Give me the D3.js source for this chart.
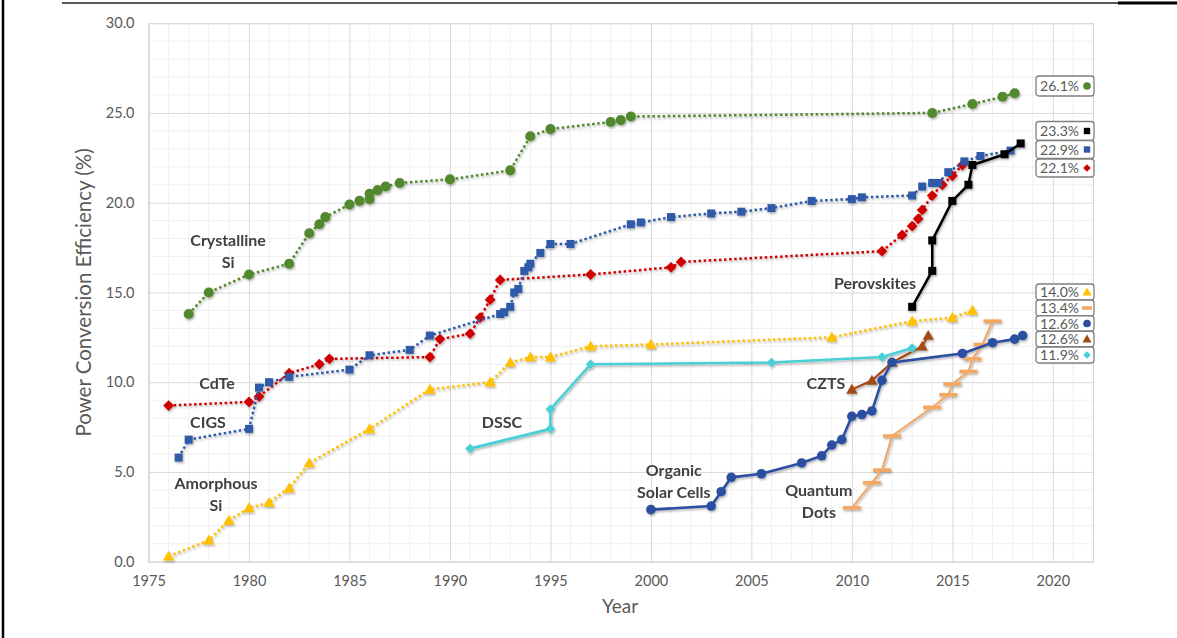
<!DOCTYPE html>
<html>
<head>
<meta charset="utf-8">
<script src="https://cdn.jsdelivr.net/npm/d3@7"></script>
<style>
  html, body { margin: 0; padding: 0; background: #fff; }
  svg { display: block; }
</style>
</head>
<body>
<svg id="chart" width="1177" height="638"></svg>
<script>
// Record cell efficiencies by technology: [year, efficiency %]
const crystallineSi = [[1977,13.8],[1978,15.0],[1980,16.0],[1982,16.6],[1983,18.3],[1983.5,18.8],[1983.8,19.2],[1985,19.9],[1985.5,20.1],[1986,20.2],[1986,20.5],[1986.4,20.7],[1986.8,20.9],[1987.5,21.1],[1990,21.3],[1993,21.8],[1994,23.7],[1995,24.1],[1998,24.5],[1998.5,24.6],[1999,24.8],[2014,25.0],[2016,25.5],[2017.5,25.9],[2018.1,26.1]];
const cigs = [[1976.5,5.8],[1977,6.8],[1980,7.4],[1980.5,9.7],[1981,10.0],[1982,10.3],[1985,10.7],[1986,11.5],[1988,11.8],[1989,12.6],[1992.5,13.8],[1992.7,13.9],[1993,14.2],[1993.2,15.0],[1993.4,15.2],[1993.7,16.2],[1993.9,16.4],[1994,16.6],[1994.5,17.2],[1995,17.7],[1996,17.7],[1999,18.8],[1999.5,18.9],[2001,19.2],[2003,19.4],[2004.5,19.5],[2006,19.7],[2008,20.1],[2010,20.2],[2010.5,20.3],[2013,20.4],[2013.5,20.9],[2014,21.1],[2014.3,21.1],[2014.8,21.7],[2015.6,22.3],[2016.4,22.6],[2017.9,22.9]];
const cdte = [[1976,8.7],[1980,8.9],[1980.5,9.2],[1982,10.5],[1983.5,11.0],[1984,11.3],[1989,11.4],[1989.5,12.4],[1991,12.7],[1991.5,13.6],[1992,14.6],[1992.5,15.7],[1997,16.0],[2001,16.4],[2001.5,16.7],[2011.5,17.3],[2012.5,18.2],[2013,18.7],[2013.3,19.1],[2013.5,19.6],[2014,20.4],[2014.5,21.0],[2015,21.5],[2015.5,22.1]];
const amorphousSi = [[1976,0.3],[1978,1.2],[1979,2.3],[1980,3.0],[1981,3.3],[1982,4.1],[1983,5.5],[1986,7.4],[1989,9.6],[1992,10.0],[1993,11.1],[1994,11.4],[1995,11.4],[1997,12.0],[2000,12.1],[2009,12.5],[2013,13.4],[2015,13.6],[2016,14.0]];
const dssc = [[1991,6.3],[1995,7.4],[1995,8.5],[1997,11.0],[2006,11.1],[2011.5,11.4],[2013,11.9]];
const organic = [[2000,2.9],[2003,3.1],[2003.5,3.9],[2004,4.7],[2005.5,4.9],[2007.5,5.5],[2008.5,5.9],[2009,6.5],[2009.5,6.8],[2010,8.1],[2010.5,8.2],[2011,8.4],[2011.5,10.1],[2012,11.1],[2015.5,11.6],[2017,12.2],[2018.1,12.4],[2018.5,12.6]];
const perovskites = [[2013,14.2],[2014,16.2],[2014,17.9],[2015,20.1],[2015.8,21.0],[2016,22.1],[2017.6,22.7],[2018.4,23.3]];
const czts = [[2010,9.6],[2011,10.1],[2012,11.1],[2013.5,12.0],[2013.8,12.6]];
const quantumDots = [[2010,3.0],[2011,4.4],[2011.5,5.1],[2012,7.0],[2014,8.6],[2014.8,9.3],[2015,9.9],[2015.8,10.6],[2016,11.3],[2016.5,12.1],[2017,13.4]];

const xTicks = [1975,1980,1985,1990,1995,2000,2005,2010,2015,2020];
const yTicks = [0,5,10,15,20,25,30];

// Series styling (drawing order: back to front)
const series = [
  {name:"Quantum Dots", data:quantumDots, color:"#F2A864", dotted:false, width:2, marker:"dash"},
  {name:"CZTS", data:czts, color:"#A24B14", dotted:false, width:2.2, marker:"triangle"},
  {name:"DSSC", data:dssc, color:"#48D0D6", dotted:false, width:2.6, marker:"diamondSmall"},
  {name:"Organic Solar Cells", data:organic, color:"#2C4FA0", dotted:false, width:2.6, marker:"circleSmall"},
  {name:"Amorphous Si", data:amorphousSi, color:"#FFC000", dotted:true, width:2.5, marker:"triangle"},
  {name:"CdTe", data:cdte, color:"#D00000", dotted:true, width:2.5, marker:"diamond"},
  {name:"CIGS", data:cigs, color:"#2E5AA8", dotted:true, width:2.5, marker:"square"},
  {name:"Perovskites", data:perovskites, color:"#000000", dotted:false, width:2.5, marker:"square"},
  {name:"Crystalline Si", data:crystallineSi, color:"#52892F", dotted:true, width:2.5, marker:"circle"}
];

// Record-value boxes at the right, in stacking order: [centre y, box height]
const recordOrder = ["Crystalline Si","Perovskites","CIGS","CdTe","Amorphous Si","Quantum Dots","Organic Solar Cells","CZTS","DSSC"];
const recordSlots = [[86,20], [131,19], [149.5,18], [168,18], [292,16], [308,16], [323.5,15.5], [339,15.5], [355,16]];

// Technology names, placed by their centre in data units
const techLabels = [
  {lines:["Crystalline","Si"], yr:1978.96, v:17.87},
  {lines:["CdTe"], yr:1978.41, v:9.9},
  {lines:["CIGS"], yr:1977.96, v:7.78},
  {lines:["Amorphous","Si"], yr:1978.36, v:4.33},
  {lines:["DSSC"], yr:1992.59, v:7.73},
  {lines:["Organic","Solar Cells"], yr:2001.14, v:5.06},
  {lines:["Perovskites"], yr:2011.15, v:15.52},
  {lines:["CZTS"], yr:2008.71, v:9.9},
  {lines:["Quantum","Dots"], yr:2008.36, v:3.99}
];

const svg = d3.select("#chart");
const FONT = "Lato, 'Open Sans', 'DejaVu Sans', sans-serif";

const x = d3.scaleLinear().domain([1975, 2022]).range([148.5, 1093]);
const y = d3.scaleLinear().domain([0, 30]).range([561.7, 23.2]);

// Drop shadow for marks
const defs = svg.append("defs");
const f = defs.append("filter").attr("id","shadow").attr("x","-50%").attr("y","-50%").attr("width","200%").attr("height","200%");
f.append("feDropShadow").attr("dx",1).attr("dy",1.5).attr("stdDeviation",1.1)
  .attr("flood-color","#000").attr("flood-opacity",0.32);

// Frame lines
svg.append("line").attr("x1",3).attr("x2",3).attr("y1",0).attr("y2",638).attr("stroke","#000").attr("stroke-width",2.5);
svg.append("line").attr("x1",62).attr("x2",1118).attr("y1",3).attr("y2",3).attr("stroke","#222").attr("stroke-width",1.5);
svg.append("line").attr("x1",1118).attr("x2",1177).attr("y1",3).attr("y2",3).attr("stroke","#000").attr("stroke-width",3);

// Grid: minor every 1 unit, major every 5
const grid = svg.append("g");
const [x0, x1] = x.range();
const [y0, y1] = y.range();
grid.selectAll("line.vmin").data(d3.range(1976, 2023, 1).filter(d => d % 5 !== 0)).join("line")
  .attr("x1", d => x(d)).attr("x2", d => x(d)).attr("y1", y1).attr("y2", y0)
  .attr("stroke", "#F0F0F0").attr("stroke-width", 1);
grid.selectAll("line.hmin").data(d3.range(1, 30, 1).filter(d => d % 5 !== 0)).join("line")
  .attr("y1", d => y(d)).attr("y2", d => y(d)).attr("x1", x0).attr("x2", x1)
  .attr("stroke", "#F0F0F0").attr("stroke-width", 1);

const xAxis = d3.axisBottom(x).tickValues(xTicks).tickFormat(d3.format("d")).tickSize(-(y0 - y1)).tickPadding(14);
const gx = svg.append("g").attr("transform", `translate(0,${y0})`).call(xAxis);
gx.select(".domain").attr("stroke", "#D4D4D4");
gx.selectAll(".tick line").attr("stroke", "#D9D9D9");
gx.selectAll(".tick text").attr("fill", "#595959").attr("font-family", FONT).attr("font-size", 14.5);

const yAxis = d3.axisLeft(y).tickValues(yTicks).tickFormat(d3.format(".1f")).tickSize(-(x1 - x0)).tickPadding(14);
const gy = svg.append("g").attr("transform", `translate(${x0},0)`).call(yAxis);
gy.select(".domain").attr("stroke", "#D9D9D9");
gy.selectAll(".tick line").attr("stroke", "#D9D9D9");
gy.selectAll(".tick text").attr("fill", "#595959").attr("font-family", FONT).attr("font-size", 14.5);

// Axis titles
svg.append("text").attr("x", 620).attr("y", 613).attr("text-anchor", "middle")
  .attr("font-family", FONT).attr("font-size", 19).attr("fill", "#595959").text("Year");
svg.append("text").attr("transform", `translate(91,${(y0 + y1) / 2}) rotate(-90)`).attr("text-anchor", "middle")
  .attr("font-family", FONT).attr("font-size", 20.5).attr("fill", "#595959").text("Power Conversion Efficiency (%)");

// Marker drawing
function drawMarker(sel, type, color) {
  if (type === "dash") {
    sel.append("rect").attr("x", -9).attr("y", -1.8).attr("width", 18).attr("height", 3.6).attr("fill", color);
    return;
  }
  const sym = {
    circle: [d3.symbolCircle, 80],
    circleSmall: [d3.symbolCircle, 72],
    square: [d3.symbolSquare, 64],
    diamond: [d3.symbolSquare, 58],
    diamondSmall: [d3.symbolSquare, 46],
    triangle: [d3.symbolTriangle, 56]
  }[type];
  const p = sel.append("path").attr("d", d3.symbol().type(sym[0]).size(sym[1])()).attr("fill", color);
  if (type.startsWith("diamond")) p.attr("transform", "rotate(45)");
  if (type === "triangle") p.attr("transform", "translate(0,1)");
}

const line = d3.line().x(d => x(d[0])).y(d => y(d[1]));
const plot = svg.append("g").attr("filter", "url(#shadow)");
series.forEach(s => {
  const g = plot.append("g");
  g.append("path").datum(s.data).attr("d", line).attr("fill", "none")
    .attr("stroke", s.color).attr("stroke-width", s.width)
    .attr("stroke-dasharray", s.dotted ? "2.5 2.6" : null)
    .attr("stroke-linejoin", "round");
  g.selectAll("g.m").data(s.data).join("g")
    .attr("transform", d => `translate(${x(d[0])},${y(d[1])})`)
    .each(function() { drawMarker(d3.select(this), s.marker, s.color); });
});

// Technology labels
const tl = svg.append("g").attr("font-family", FONT).attr("font-weight", 700).attr("font-size", 16).attr("fill", "#404040").attr("text-anchor", "middle");
techLabels.forEach(l => {
  const t = tl.append("text").attr("x", x(l.yr)).attr("y", y(l.v) + 5.5);
  l.lines.forEach((ln, i) => t.append("tspan").attr("x", x(l.yr)).attr("dy", i === 0 ? 0 : 22).text(ln));
});

// Record-value boxes
const rb = svg.append("g");
recordOrder.forEach((name, i) => {
  const s = series.find(d => d.name === name);
  const last = s.data[s.data.length - 1];
  const [cy, h] = recordSlots[i];
  const g = rb.append("g").attr("transform", `translate(1036,${cy})`);
  g.append("rect").attr("x", 0).attr("y", -h / 2).attr("width", 58).attr("height", h).attr("rx", 3)
    .attr("fill", "#fff").attr("stroke", "#7F7F7F").attr("stroke-width", 1.3);
  g.append("text").attr("x", 43).attr("y", 5).attr("text-anchor", "end")
    .attr("font-family", FONT).attr("font-size", 14).attr("fill", "#595959")
    .text(d3.format(".1f")(last[1]) + "%");
  const m = g.append("g").attr("transform", "translate(51,0)");
  const small = {circle:"circleSmall", circleSmall:"circleSmall", square:"square", diamond:"diamondSmall", diamondSmall:"diamondSmall", triangle:"triangle"};
  if (s.marker === "dash") {
    m.append("rect").attr("x", -5).attr("y", -1.8).attr("width", 10).attr("height", 3.6).attr("fill", s.color);
  } else {
    const sc = m.append("g").attr("transform", "scale(0.8)");
    drawMarker(sc, small[s.marker], s.color);
  }
});
</script>
</body>
</html>
